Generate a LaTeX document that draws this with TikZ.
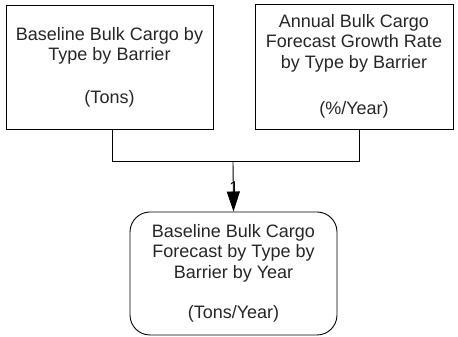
\documentclass[tikz,border=0pt]{standalone}
\usepackage{fontspec}
\setmainfont{Liberation Sans}
\usetikzlibrary{arrows.meta}
\begin{document}
\begin{tikzpicture}[x=1pt,y=1pt,
  boxstyle/.style={draw=black, line width=0.9pt, align=center, inner sep=0pt,
    font=\fontsize{18}{20.5}\selectfont, text=black!85},
  link/.style={draw=black, line width=0.9pt}
]
\useasboundingbox (0,0) rectangle (458,337);
% top-left box: x 6..213, y 5..129 (px from top)
\node[boxstyle, minimum width=207pt, minimum height=124pt] (box1) at (109.5,{337-67})
  {Baseline Bulk Cargo by\\Type by Barrier\\[22pt](Tons)};
% top-right box: x 255..453, y 4..129
\node[boxstyle, minimum width=198pt, minimum height=125pt] (box2) at (354,{337-66.5})
  {Annual Bulk Cargo\\Forecast Growth Rate\\by Type by Barrier\\[26pt](\%/Year)};
% bottom rounded box: x 130..337, y 212..335
\node[boxstyle, rounded corners=20pt, minimum width=207pt, minimum height=123pt] (box3) at (233.5,{337-273.5})
  {Baseline Bulk Cargo\\Forecast by Type by\\Barrier by Year\\[20pt](Tons/Year)};
\coordinate (join) at (233,{337-161});
\draw[link] ([xshift=2.5pt]box1.south) |- (join);
\draw[link] ([xshift=5pt]box2.south) |- (join);
\draw[link, -{Triangle[length=20pt,width=13pt]}] (join) -- (box3.north);
\node[font=\fontsize{17}{19}\selectfont, inner sep=0pt] (lbl) at (234,{337-188}) {1};
\end{tikzpicture}
\end{document}
